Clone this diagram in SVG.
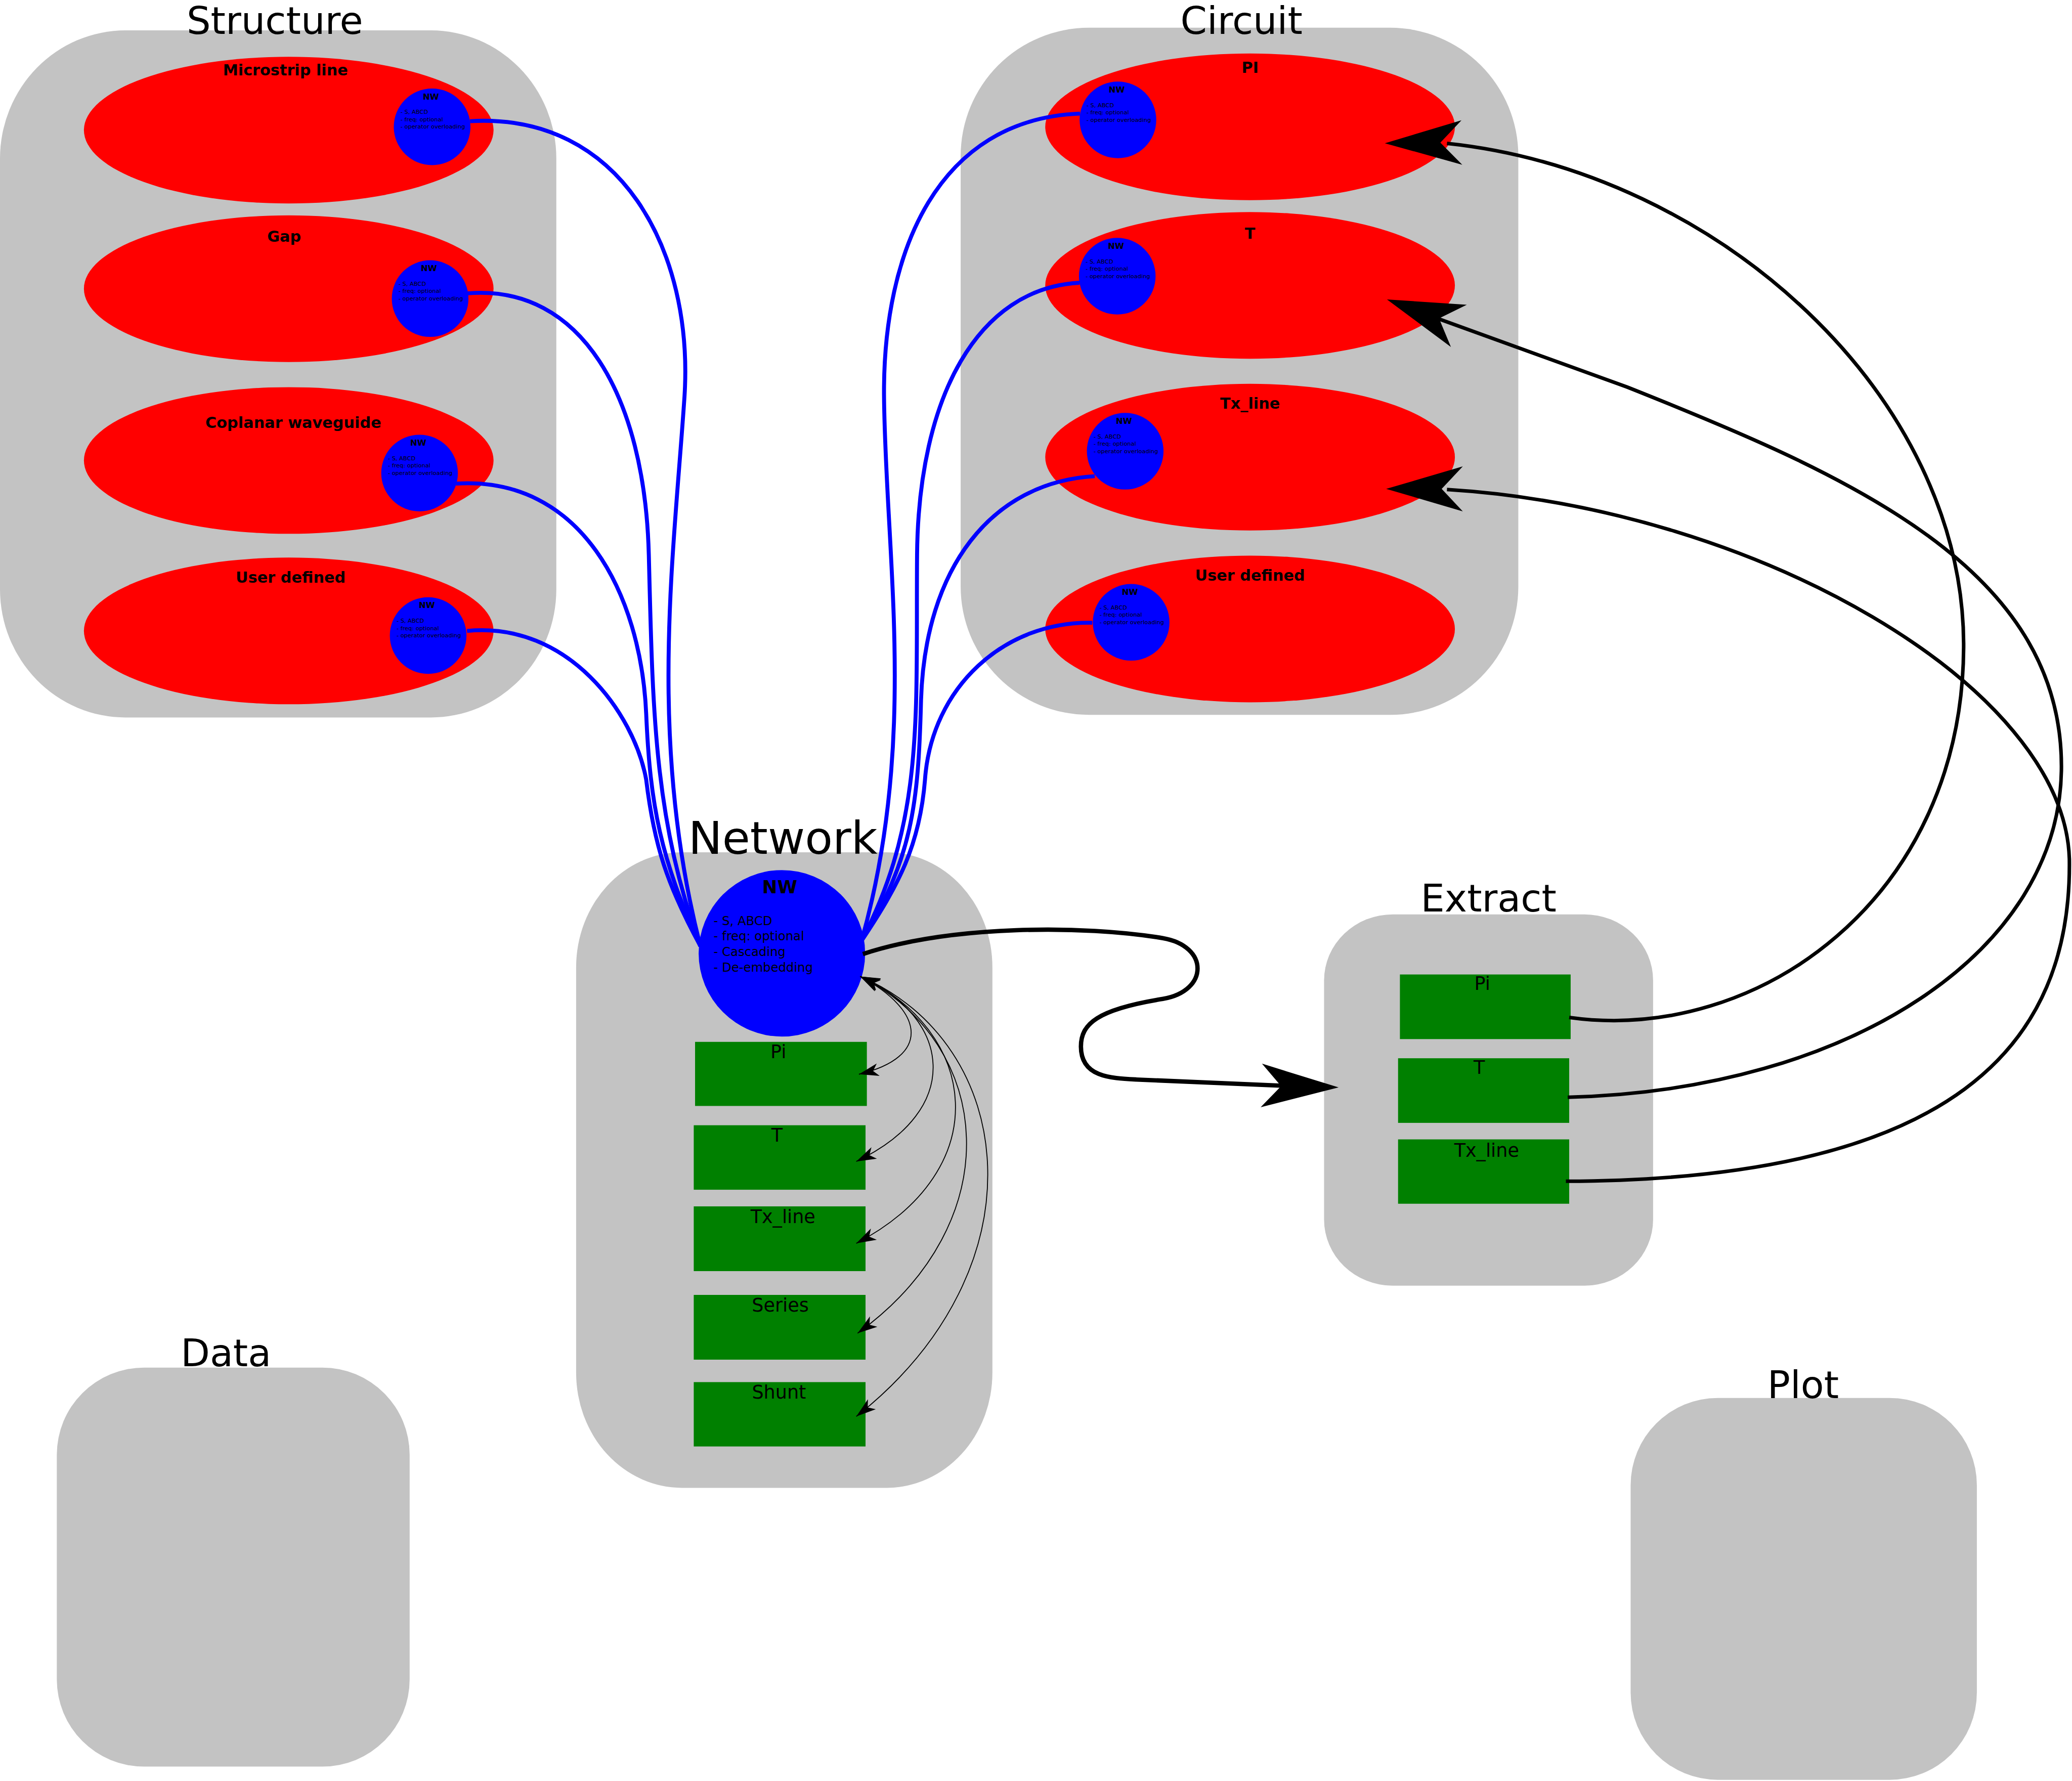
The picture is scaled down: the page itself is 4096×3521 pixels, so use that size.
<svg xmlns="http://www.w3.org/2000/svg" width="4096" height="3521" viewBox="0 0 4096 3521">
<defs>
<style>
.panel{fill:#c3c3c3}
.ttl{font-family:"DejaVu Sans",sans-serif;font-size:28.7px;text-anchor:middle;fill:#000}
.el{fill:#ff0000}
.elt{font-family:"DejaVu Sans",sans-serif;font-size:11.6px;font-weight:bold;text-anchor:middle;fill:#000}
.nw{fill:#0000ff}
.nwt{font-family:"DejaVu Sans",sans-serif;font-size:6.3px;font-weight:bold;text-anchor:middle;fill:#000}
.nwl{font-family:"DejaVu Sans",sans-serif;font-size:4.35px;fill:#000}
.box{fill:#008000}
.bxt{font-family:"DejaVu Sans",sans-serif;font-size:14px;text-anchor:middle;fill:#000}
.blue{fill:none;stroke:#0000ff;stroke-width:3}
.thin{fill:none;stroke:#000;stroke-width:0.7;marker-start:url(#dartS);marker-end:url(#dartE)}
.thick{fill:none;stroke:#000;stroke-width:2.7}
.big{fill:#000}
</style>
<marker id="dartE" markerUnits="userSpaceOnUse" orient="auto" refX="0" refY="0" markerWidth="20" markerHeight="20" overflow="visible">
<path d="M0,0 L-15,-4.8 L-11,0 L-15,4.8 Z" fill="#000"/>
</marker>
<marker id="dartS" markerUnits="userSpaceOnUse" orient="auto-start-reverse" refX="0" refY="0" markerWidth="20" markerHeight="20" overflow="visible">
<path d="M0,0 L-15,-4.8 L-11,0 L-15,4.8 Z" fill="#000"/>
</marker>
</defs>
<rect x="0" y="0" width="4096" height="3521" fill="#fff"/>
<g transform="scale(2.61224)">

<g id="structure">
<rect class="panel" x="0" y="23" width="421" height="520" rx="95" ry="97"/>
<text class="ttl" x="208" y="25.5">Structure</text>
<g id="microstrip">
<ellipse class="el" cx="218.5" cy="98.5" rx="155" ry="55.5"/>
<text class="elt" x="216" y="57">Microstrip line</text>
<circle class="nw" cx="327" cy="96" r="29"/>
<text class="nwt" x="326" y="75.3">NW</text>
<text class="nwl" x="303.1" y="86.3">- S, ABCD</text>
<text class="nwl" x="303.1" y="91.8">- freq: optional</text>
<text class="nwl" x="303.1" y="97.4">- operator overloading</text>
</g>
<g id="gap">
<ellipse class="el" cx="218.5" cy="218.5" rx="155" ry="55.5"/>
<text class="elt" x="215" y="183">Gap</text>
<circle class="nw" cx="325.5" cy="226" r="29"/>
<text class="nwt" x="324.5" y="205.3">NW</text>
<text class="nwl" x="301.6" y="216.3">- S, ABCD</text>
<text class="nwl" x="301.6" y="221.8">- freq: optional</text>
<text class="nwl" x="301.6" y="227.4">- operator overloading</text>
</g>
<g id="coplanar">
<ellipse class="el" cx="218.5" cy="348.5" rx="155" ry="55.5"/>
<text class="elt" x="222" y="324">Coplanar waveguide</text>
<circle class="nw" cx="317.5" cy="358" r="29"/>
<text class="nwt" x="316.5" y="337.3">NW</text>
<text class="nwl" x="293.6" y="348.3">- S, ABCD</text>
<text class="nwl" x="293.6" y="353.8">- freq: optional</text>
<text class="nwl" x="293.6" y="359.4">- operator overloading</text>
</g>
<g id="userdef-s">
<ellipse class="el" cx="218.5" cy="477.5" rx="155" ry="55.5"/>
<text class="elt" x="220" y="441">User defined</text>
<circle class="nw" cx="324" cy="481" r="29"/>
<text class="nwt" x="323" y="460.3">NW</text>
<text class="nwl" x="300.1" y="471.3">- S, ABCD</text>
<text class="nwl" x="300.1" y="476.8">- freq: optional</text>
<text class="nwl" x="300.1" y="482.4">- operator overloading</text>
</g>
</g>

<g id="circuit">
<rect class="panel" x="727" y="21" width="422" height="520" rx="97" ry="97"/>
<text class="ttl" x="939.5" y="25.5">Circuit</text>
<g id="pi-c">
<ellipse class="el" cx="946" cy="96" rx="155" ry="55.5"/>
<text class="elt" x="946" y="55">PI</text>
<circle class="nw" cx="846" cy="90.7" r="29"/>
<text class="nwt" x="845" y="70">NW</text>
<text class="nwl" x="822.2" y="81">- S, ABCD</text>
<text class="nwl" x="822.2" y="86.5">- freq: optional</text>
<text class="nwl" x="822.2" y="92.1">- operator overloading</text>
</g>
<g id="t-c">
<ellipse class="el" cx="946" cy="216" rx="155" ry="55.5"/>
<text class="elt" x="946" y="180.5">T</text>
<circle class="nw" cx="845.5" cy="209" r="29"/>
<text class="nwt" x="844.5" y="188.3">NW</text>
<text class="nwl" x="821.6" y="199.3">- S, ABCD</text>
<text class="nwl" x="821.6" y="204.8">- freq: optional</text>
<text class="nwl" x="821.6" y="210.4">- operator overloading</text>
</g>
<g id="tx-c">
<ellipse class="el" cx="946" cy="346" rx="155" ry="55.5"/>
<text class="elt" x="946" y="309.3">Tx_line</text>
<circle class="nw" cx="851.5" cy="341.5" r="29"/>
<text class="nwt" x="850.5" y="320.8">NW</text>
<text class="nwl" x="827.6" y="331.8">- S, ABCD</text>
<text class="nwl" x="827.6" y="337.3">- freq: optional</text>
<text class="nwl" x="827.6" y="342.9">- operator overloading</text>
</g>
<g id="userdef-c">
<ellipse class="el" cx="946" cy="476" rx="155" ry="55.5"/>
<text class="elt" x="946" y="439.3">User defined</text>
<circle class="nw" cx="856" cy="471" r="29"/>
<text class="nwt" x="855" y="450.3">NW</text>
<text class="nwl" x="832.1" y="461.3">- S, ABCD</text>
<text class="nwl" x="832.1" y="466.8">- freq: optional</text>
<text class="nwl" x="832.1" y="472.4">- operator overloading</text>
</g>
</g>

<g id="network">
<rect class="panel" x="436" y="645" width="315" height="481" rx="80" ry="87"/>
<text class="ttl" x="592.5" y="646" style="font-size:34.3px">Network</text>
<g id="nw-main">
<circle class="nw" cx="591.7" cy="721.5" r="63"/>
<text class="nwt" x="590" y="676" style="font-size:13.7px">NW</text>
<text class="nwl" x="540" y="700" style="font-size:9.3px">- S, ABCD</text>
<text class="nwl" x="540" y="711.8" style="font-size:9.3px">- freq: optional</text>
<text class="nwl" x="540" y="723.6" style="font-size:9.3px">- Cascading</text>
<text class="nwl" x="540" y="735.4" style="font-size:9.3px">- De-embedding</text>
</g>
<g id="nw-pi"><rect class="box" x="526" y="788.5" width="130" height="48.5"/><text class="bxt" x="589" y="801">Pi</text></g>
<g id="nw-t"><rect class="box" x="525" y="851.6" width="130" height="48.8"/><text class="bxt" x="588" y="864">T</text></g>
<g id="nw-tx"><rect class="box" x="525" y="913" width="130" height="49"/><text class="bxt" x="592.5" y="925.5">Tx_line</text></g>
<g id="nw-series"><rect class="box" x="525" y="980" width="130" height="49"/><text class="bxt" x="590.5" y="992.5">Series</text></g>
<g id="nw-shunt"><rect class="box" x="525" y="1046" width="130" height="48.7"/><text class="bxt" x="589.5" y="1058.5">Shunt</text></g>
</g>

<g id="extract">
<rect class="panel" x="1002" y="692" width="249" height="281" rx="52" ry="50"/>
<text class="ttl" x="1126.5" y="690">Extract</text>
<g id="ex-pi"><rect class="box" x="1059.4" y="737.5" width="129.2" height="48.9"/><text class="bxt" x="1121.7" y="749.3">Pi</text></g>
<g id="ex-t"><rect class="box" x="1058" y="800.9" width="129.5" height="48.9"/><text class="bxt" x="1119.4" y="812.8">T</text></g>
<g id="ex-tx"><rect class="box" x="1058" y="862.3" width="129.5" height="48.7"/><text class="bxt" x="1125" y="875.5">Tx_line</text></g>
</g>

<g id="data">
<rect class="panel" x="43" y="1035" width="267" height="302" rx="66" ry="66"/>
<text class="ttl" x="171" y="1034">Data</text>
</g>

<g id="plot">
<rect class="panel" x="1234" y="1058" width="262" height="289" rx="66" ry="66"/>
<text class="ttl" x="1364.5" y="1058">Plot</text>
</g>

<g id="connectors">
<path class="blue" d="M355.7,91.7 C470,85 525,190 518,300 C510,420 490,560 530,716"/>
<path class="blue" d="M354,222 C440,215 488,300 491,420 C494,540 495,620 530,716"/>
<path class="blue" d="M345,366 C440,360 485,450 489,540 C492,610 500,650 530,716"/>
<path class="blue" d="M353.4,477.5 C430,470 480,540 489,590 C495,640 505,670 530,716"/>
<path class="blue" d="M817.3,86 C710,90 668,190 669,300 C670,420 695,560 652,712"/>
<path class="blue" d="M817,214 C740,218 695,300 694,420 C693,540 700,620 652,712"/>
<path class="blue" d="M828.5,360.4 C750,365 700,430 697,530 C695,610 690,650 652,712"/>
<path class="blue" d="M826.6,471.3 C760,470 705,520 700,590 C696,640 680,670 652,712"/>

<path class="thin" d="M651,739 C700,765 705,800 650,813"/>
<path class="thin" d="M651,739 C720,770 730,840 648,879"/>
<path class="thin" d="M651,739 C740,780 755,885 648,941"/>
<path class="thin" d="M651,739 C752,790 765,925 649,1009"/>
<path class="thin" d="M651,739 C770,790 790,960 648,1072"/>

<path class="thick" style="stroke-width:3.3" d="M653,722 C720,700 820,700 880,710 C915,716 915,750 880,756 C830,764 818,775 818,792 C818,815 840,816 860,817 L990,822.5"/>
<polygon class="big" points="1013,823 955,805 969.5,822 954,838"/>

<path class="thick" d="M1187.5,770 C1330,790 1485,680 1486,490 C1487,300 1300,130 1095,108.5"/>
<polygon class="big" points="1048,108.4 1106,91 1090,108 1106.6,124.7"/>
<path class="thick" d="M1186.4,830.4 C1400,825 1560,720 1560,580 C1560,430 1400,360 1231.5,293 L1085,240"/>
<polygon class="big" points="1049.6,226.6 1110,230.6 1089,241 1098,262.6"/>
<path class="thick" d="M1185,894 C1480,893 1568,790 1566,650 C1562,520 1330,385 1095,370.5"/>
<polygon class="big" points="1049,370 1107,353 1091,370 1107,387"/>
</g>
</g>
</svg>
